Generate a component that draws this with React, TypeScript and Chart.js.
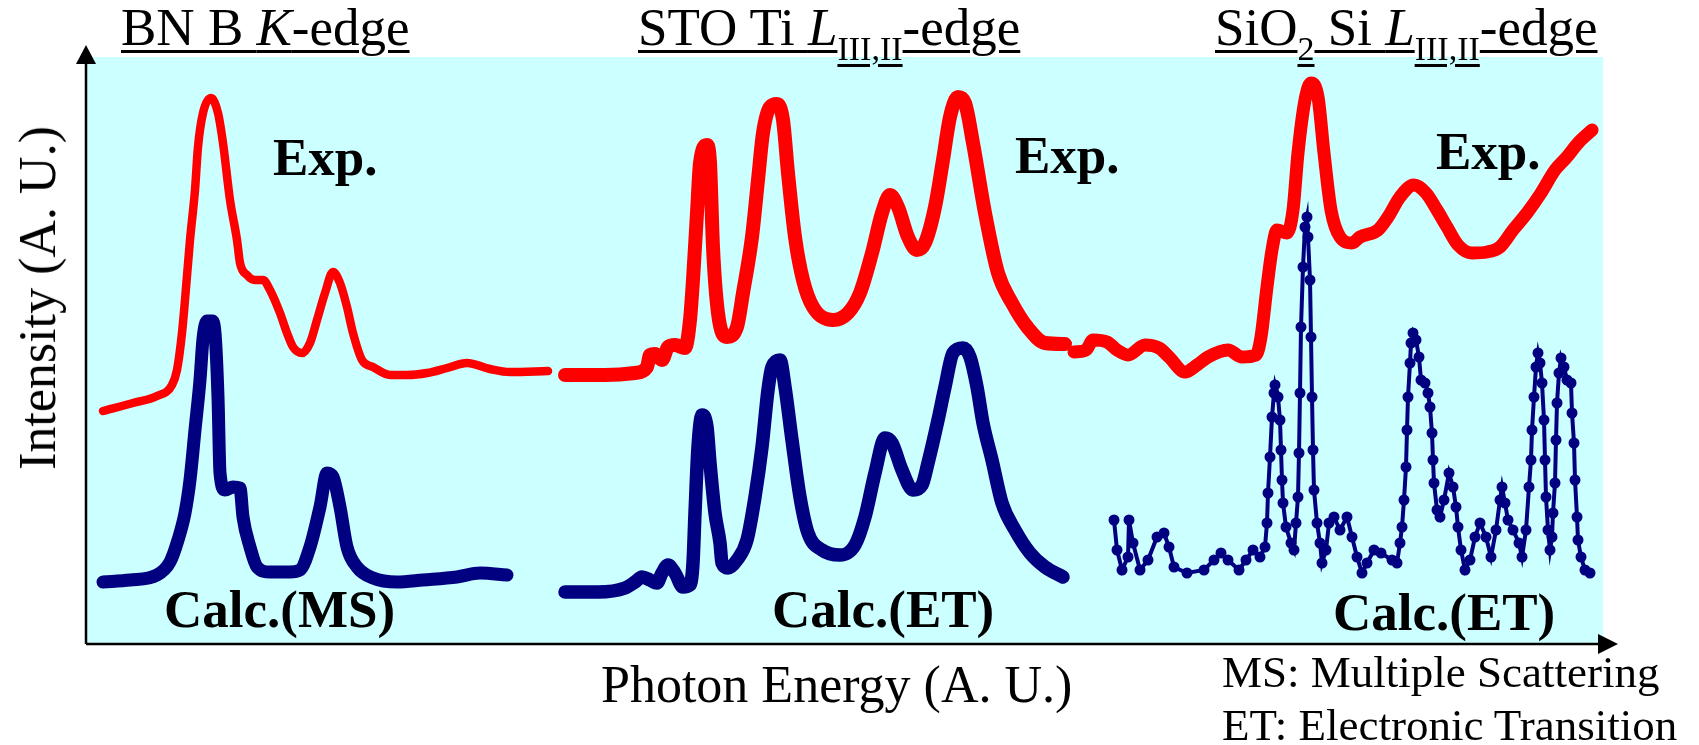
import React, { useEffect, useRef } from "react";
import { Chart, registerables } from "chart.js";

Chart.register(...registerables);

// Photon energy (A.U.) and intensity (A.U.)
const BN_EXP_E = [17,47,71,86,91,96,99,104,109,112,117,125,132,137,144,151,154,161,169,177,184,194,201,207,216,224,231,239,247,254,261,267,276,287,304,321,341,361,381,404,424,462];
const BN_EXP_I = [233,241,248,259,274,311,344,404,454,497,531,546,531,501,444,404,381,369,364,364,354,331,311,297,291,301,324,351,372,361,337,311,284,277,269,269,271,276,281,275,272,273];

const BN_CALC_E = [17,44,71,84,92,99,104,109,114,117,121,126,129,132,134,139,147,154,157,164,171,184,204,214,224,234,241,247,254,261,271,287,311,337,371,394,421];
const BN_CALC_I = [62,64,69,82,104,131,164,214,264,305,323,323,311,247,171,154,157,156,127,97,77,72,72,74,97,137,171,167,137,97,77,66,62,64,67,71,69];

const STO_EXP_E = [479,519,549,561,564,569,576,582,589,599,604,607,611,614,621,624,627,632,641,651,657,666,672,677,684,691,697,702,709,717,727,747,762,774,786,796,804,812,822,831,839,849,857,864,872,879,887,899,912,926,942,959,979];
const STO_EXP_I = [269,269,271,277,289,290,284,297,299,296,324,364,431,481,499,481,397,331,307,317,351,407,464,511,537,540,524,471,407,364,337,324,331,351,391,431,449,437,407,394,401,437,484,527,547,541,501,431,371,341,316,301,300];

const STO_CALC_E = [479,512,539,549,556,564,571,576,582,589,597,604,607,609,612,616,621,624,629,634,636,642,651,661,669,676,682,686,694,699,706,714,722,736,754,769,779,789,799,806,816,827,836,842,852,859,867,877,884,891,897,906,916,929,944,959,977];
const STO_CALC_I = [52,52,56,62,67,64,61,71,79,71,57,59,81,131,197,229,217,181,131,101,81,76,84,104,147,197,254,277,284,257,204,147,111,94,89,99,127,171,206,201,174,154,159,181,224,257,291,296,287,257,221,184,141,114,91,77,67];

const SIO2_EXP_E = [988,1000,1007,1021,1031,1042,1059,1073,1083,1099,1111,1122,1142,1156,1170,1175,1181,1186,1191,1201,1207,1212,1219,1225,1232,1238,1245,1254,1266,1274,1292,1302,1314,1328,1340,1351,1361,1372,1386,1401,1414,1427,1441,1455,1469,1480,1493,1506];
const SIO2_EXP_I = [292,294,304,302,294,289,299,296,287,272,279,287,294,287,289,307,357,394,414,411,434,491,544,561,547,491,434,407,401,407,414,427,447,459,451,434,417,399,391,392,397,414,431,451,474,486,502,514];

const SIO2_CALC_E = [
  1028,1031,1036,1042,1043,1047,1054,1062,1071,1078,
  1083,1088,1101,1118,1128,1135,1142,1153,1160,1167,
  1174,1179,1181,1182,1184,1186,1188,1189,1192,1194,
  1195,1196,1197,1200,1205,1208,1210,1212,1213,1214,
  1215,1217,1219,1221,1222,1224,1225,1226,1227,1228,
  1231,1234,1236,1240,1243,1248,1254,1261,1266,1271,
  1276,1281,1288,1295,1306,1311,1314,1316,1318,1320,
  1321,1322,1324,1325,1327,1330,1333,1335,1339,1342,
  1344,1346,1347,1348,1351,1354,1358,1363,1367,1370,
  1372,1375,1379,1384,1389,1394,1400,1405,1410,1414,
  1416,1419,1422,1427,1433,1436,1440,1443,1445,1446,
  1448,1450,1452,1454,1456,1458,1459,1460,1462,1464,
  1466,1467,1469,1470,1471,1473,1475,1478,1481,1485,
  1486,1488,1489,1491,1492,1495,1499,1504,
];
const SIO2_CALC_I = [
  124,94,74,87,124,101,74,84,107,111,
  97,77,71,74,84,91,84,74,84,94,
  87,97,121,151,187,227,251,259,247,224,
  194,164,141,117,101,94,121,147,191,251,
  317,377,417,427,407,364,307,247,194,154,
  121,101,81,94,121,127,114,127,107,87,
  71,81,94,91,84,81,101,117,144,177,
  214,247,281,301,311,304,287,264,261,251,
  237,211,184,161,134,127,144,171,157,137,
  117,94,74,84,107,121,107,87,114,144,
  157,141,124,114,101,87,114,157,184,214,
  247,277,291,281,261,224,184,147,114,94,
  107,131,161,204,241,271,286,277,264,261,
  231,201,164,127,104,87,74,71,
];

const E_MAX = 1517;
const I_MAX = 587;

const RED = "#FF0000";
const NAVY = "#000080";
const CYAN = "#CCFFFF";
const SERIF = '"Liberation Serif", "Times New Roman", serif';

function pts(e: number[], i: number[]) {
  return e.map((x, k) => ({ x, y: i[k] }));
}

function Txt(props: { x: number; base: number; size: number; bold?: boolean; children: any }) {
  const { x, base, size, bold, children } = props;
  return (
    <div
      style={{
        position: "absolute",
        left: x,
        top: base - 0.8375 * size,
        fontSize: size,
        lineHeight: `${size}px`,
        fontWeight: bold ? 700 : 400,
        whiteSpace: "nowrap",
        color: "#000",
      }}
    >
      {children}
    </div>
  );
}

const U: React.CSSProperties = {
  textDecoration: "underline",
  textDecorationThickness: "3px",
  textUnderlineOffset: "5px",
};
const SUB: React.CSSProperties = {
  fontSize: 34,
  lineHeight: 0,
  position: "relative",
  top: 15,
  textDecoration: "underline",
  textDecorationThickness: "2.5px",
  textUnderlineOffset: "4px",
};

export default function App() {
  const ref = useRef<HTMLCanvasElement>(null);

  useEffect(() => {
    const canvas = ref.current;
    if (!canvas) return;

    const bgPlugin = {
      id: "cyanBg",
      beforeDatasetsDraw(chart: any) {
        const { ctx, chartArea: a } = chart;
        ctx.save();
        ctx.fillStyle = CYAN;
        ctx.fillRect(a.left, a.top, a.right - a.left, a.bottom - a.top);
        ctx.restore();
      },
    };

    const axesPlugin = {
      id: "axesArrows",
      afterDatasetsDraw(chart: any) {
        const { ctx, chartArea: a } = chart;
        ctx.save();
        ctx.strokeStyle = "#000";
        ctx.fillStyle = "#000";
        ctx.lineWidth = 2.5;
        ctx.beginPath();
        ctx.moveTo(a.left, a.bottom);
        ctx.lineTo(a.left, a.top);
        ctx.moveTo(a.left, a.bottom);
        ctx.lineTo(a.right, a.bottom);
        ctx.stroke();
        // y arrow head
        ctx.beginPath();
        ctx.moveTo(a.left, a.top - 12);
        ctx.lineTo(a.left - 10, a.top + 7);
        ctx.lineTo(a.left + 10, a.top + 7);
        ctx.closePath();
        ctx.fill();
        // x arrow head
        ctx.beginPath();
        ctx.moveTo(a.right + 15, a.bottom);
        ctx.lineTo(a.right - 5, a.bottom - 10);
        ctx.lineTo(a.right - 5, a.bottom + 10);
        ctx.closePath();
        ctx.fill();
        ctx.restore();
      },
    };

    const smooth = {
      cubicInterpolationMode: "monotone" as const,
      borderCapStyle: "round" as const,
      borderJoinStyle: "round" as const,
      pointRadius: 0,
      fill: false,
    };

    const chart = new Chart(canvas, {
      type: "line",
      data: {
        datasets: [
          { label: "BN Exp.", data: pts(BN_EXP_E, BN_EXP_I), borderColor: RED, borderWidth: 8.5, ...smooth },
          { label: "BN Calc.(MS)", data: pts(BN_CALC_E, BN_CALC_I), borderColor: NAVY, borderWidth: 13, ...smooth },
          { label: "STO Exp.", data: pts(STO_EXP_E, STO_EXP_I), borderColor: RED, borderWidth: 14, ...smooth },
          { label: "STO Calc.(ET)", data: pts(STO_CALC_E, STO_CALC_I), borderColor: NAVY, borderWidth: 13.5, ...smooth },
          { label: "SiO2 Exp.", data: pts(SIO2_EXP_E, SIO2_EXP_I), borderColor: RED, borderWidth: 13, ...smooth },
          {
            label: "SiO2 Calc.(ET)",
            data: pts(SIO2_CALC_E, SIO2_CALC_I),
            borderColor: NAVY,
            borderWidth: 4,
            tension: 0,
            pointRadius: 5.5,
            pointBackgroundColor: NAVY,
            pointBorderColor: NAVY,
            pointBorderWidth: 0,
            fill: false,
          },
        ],
      },
      options: {
        responsive: false,
        maintainAspectRatio: false,
        animation: false,
        devicePixelRatio: 1,
        layout: { padding: { left: 86, top: 57, right: 96, bottom: 101 } },
        scales: {
          x: { type: "linear", min: 0, max: E_MAX, display: false },
          y: { type: "linear", min: 0, max: I_MAX, display: false },
        },
        plugins: {
          legend: { display: false },
          tooltip: { enabled: false },
          title: { display: false },
        },
      },
      plugins: [bgPlugin, axesPlugin],
    });

    return () => chart.destroy();
  }, []);

  return (
    <div
      style={{
        position: "absolute",
        left: 0,
        top: 0,
        width: 1699,
        height: 745,
        overflow: "hidden",
        background: "#fff",
        fontFamily: SERIF,
      }}
    >
      <canvas
        ref={ref}
        width={1699}
        height={745}
        style={{ position: "absolute", left: 0, top: 0, width: 1699, height: 745 }}
      />

      {/* panel titles */}
      <Txt x={121} base={45} size={53}>
        <span style={U}>BN B </span>
        <i style={U}>K</i>
        <span style={U}>-edge</span>
      </Txt>
      <Txt x={638} base={45} size={53}>
        <span style={U}>STO Ti </span>
        <i style={U}>L</i>
        <span style={SUB}>III,II</span>
        <span style={U}>-edge</span>
      </Txt>
      <Txt x={1215} base={45} size={53}>
        <span style={U}>SiO</span>
        <span style={SUB}>2</span>
        <span style={U}> Si </span>
        <i style={U}>L</i>
        <span style={SUB}>III,II</span>
        <span style={U}>-edge</span>
      </Txt>

      {/* curve labels */}
      <Txt x={273} base={175} size={53} bold>Exp.</Txt>
      <Txt x={1015} base={173} size={53} bold>Exp.</Txt>
      <Txt x={1436} base={169} size={53} bold>Exp.</Txt>
      <Txt x={164} base={627} size={53} bold>Calc.(MS)</Txt>
      <Txt x={772} base={627} size={53} bold>Calc.(ET)</Txt>
      <Txt x={1333} base={630} size={53} bold>Calc.(ET)</Txt>

      {/* axis titles */}
      <div
        style={{
          position: "absolute",
          left: 37.5,
          top: 298,
          transform: "translate(-50%, -50%) rotate(-90deg)",
          fontSize: 52,
          lineHeight: "52px",
          whiteSpace: "nowrap",
          color: "#000",
        }}
      >
        Intensity (A. U.)
      </div>
      <Txt x={601} base={703} size={52}>Photon Energy (A. U.)</Txt>

      {/* notes */}
      <Txt x={1222} base={688} size={45}>MS: Multiple Scattering</Txt>
      <Txt x={1222} base={741} size={45}>ET: Electronic Transition</Txt>
    </div>
  );
}
